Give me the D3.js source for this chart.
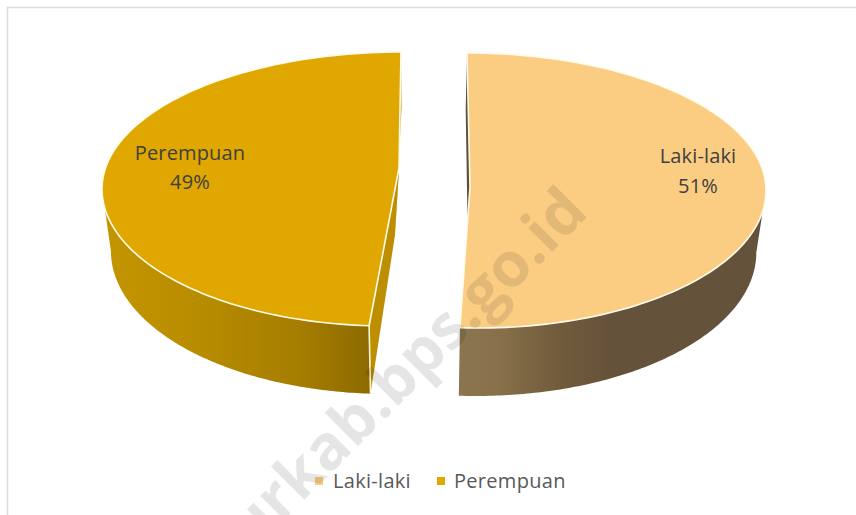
<!DOCTYPE html>
<html>
<head>
<meta charset="utf-8">
<script src="https://cdn.jsdelivr.net/npm/d3@7"></script>
<style>
  html, body { margin: 0; padding: 0; background: #fff; }
  svg { display: block; }
  text { font-family: "Open Sans", sans-serif; }
</style>
</head>
<body>
<script>
// data
const categories = ["Laki-laki", "Perempuan"];
const values = [51, 49];

const w = 856;
const h = 515;

// colours
const topColors = ["#fbcd83", "#dfa700"];
const cutColors = ["#5f4f38", "#bd8f00"];
const gradStops = [
  [[460, "#8b7550"], [500, "#877049"], [560, "#705b3c"], [610, "#65523a"], [766, "#65523a"]],
  [[103, "#c49500"], [200, "#b88c00"], [300, "#a57d00"], [372, "#8c6a00"]]
];

// the two slices are pulled apart and drawn with some perspective, so the
// back half and front half of each rim get their own centre and radius
const geo = [
  { back: [467, 299], front: [478, 288], cy: 190.5, ry: 137.5, apex: [470, 187], apexDrop: [468, 250] },
  { back: [401, 299], front: [387, 285], cy: 189, ry: 137, apex: [399, 168], apexDrop: [395, 235] }
];
const vx = 420;
const depthScale = 0.972;

function rimPoint(i, a, drop) {
  const g = geo[i];
  const c = Math.cos(a);
  const part = c >= 0 ? g.back : g.front;
  const x = part[0] + part[1] * Math.sin(a);
  const y = g.cy - g.ry * c;
  if (!drop) return [x, y];
  return [vx + (x - vx) * depthScale, y + 62 - 6 * c];
}

const svg = d3.select("body").append("svg").attr("width", w).attr("height", h);

// frame of the original picture, top and left only
svg.append("path")
   .attr("d", "M856,7.5H7.5V515")
   .attr("fill", "none")
   .attr("stroke", "#dcdcdc")
   .attr("stroke-width", 1.6);

const defs = svg.append("defs");
gradStops.forEach(function(stops, i) {
  const grad = defs.append("linearGradient")
     .attr("id", "wall" + i)
     .attr("gradientUnits", "userSpaceOnUse")
     .attr("x1", stops[0][0]).attr("y1", 0)
     .attr("x2", stops[stops.length - 1][0]).attr("y2", 0);
  stops.forEach(function(s) {
    grad.append("stop")
        .attr("offset", (s[0] - stops[0][0]) / (stops[stops.length - 1][0] - stops[0][0]))
        .attr("stop-color", s[1]);
  });
});

const slices = d3.pie().sort(null)(values);
const line = d3.line();

function arcPoints(i, a0, a1, drop) {
  const n = 120;
  return d3.range(n + 1).map(function(k) {
    return rimPoint(i, a0 + (a1 - a0) * k / n, drop);
  });
}

// outer walls first
slices.forEach(function(d, i) {
  // only the part of the rim that faces the viewer
  const from = i === 0 ? Math.PI / 2 : d.startAngle;
  const to = i === 0 ? d.endAngle : Math.PI * 1.5;
  const pts = arcPoints(i, from, to, false).concat(arcPoints(i, from, to, true).reverse());
  svg.append("path")
     .attr("d", line(pts) + "Z")
     .attr("fill", "url(#wall" + i + ")");
});

// cut faces, they show as thin strips next to the gap
slices.forEach(function(d, i) {
  const g = geo[i];
  const backA = i === 0 ? d.startAngle : d.endAngle;
  const backFace = [rimPoint(i, backA, false), rimPoint(i, backA, true), g.apexDrop, g.apex];
  svg.append("path")
     .attr("d", line(backFace) + "Z")
     .attr("fill", cutColors[i]);
  if (i === 1) {
    const frontFace = [g.apex, rimPoint(i, d.startAngle, false), rimPoint(i, d.startAngle, true), g.apexDrop];
    svg.append("path")
       .attr("d", line(frontFace) + "Z")
       .attr("fill", cutColors[i]);
  }
});

// edge of the left wall
const edge = [rimPoint(1, slices[1].startAngle, false), rimPoint(1, slices[1].startAngle, true)];
svg.append("path")
   .attr("d", line(edge))
   .attr("stroke", "#fff6d8")
   .attr("stroke-width", 1.6);

// top faces
slices.forEach(function(d, i) {
  const pts = [geo[i].apex].concat(arcPoints(i, d.startAngle, d.endAngle, false));
  svg.append("path")
     .attr("d", line(pts) + "Z")
     .attr("fill", topColors[i])
     .attr("stroke", "#fffbea")
     .attr("stroke-width", 1.6)
     .attr("stroke-linejoin", "round");
});

// data labels
const labelPos = [[698, 163, 193], [190, 160, 189]];
categories.forEach(function(c, i) {
  const t = svg.append("text")
     .attr("text-anchor", "middle")
     .attr("font-size", 20)
     .attr("letter-spacing", 0.15)
     .attr("fill", "#404040");
  t.append("tspan").attr("x", labelPos[i][0]).attr("y", labelPos[i][1]).text(c);
  t.append("tspan").attr("x", labelPos[i][0]).attr("y", labelPos[i][2]).text(values[i] + "%");
});

// legend
const legendX = [315, 437];
const legendGap = [18, 17];
categories.forEach(function(c, i) {
  svg.append("rect")
     .attr("x", legendX[i]).attr("y", 477)
     .attr("width", 8).attr("height", 8)
     .attr("fill", topColors[i]);
  svg.append("text")
     .attr("x", legendX[i] + legendGap[i]).attr("y", 488)
     .attr("font-size", 20)
     .attr("letter-spacing", 0.3)
     .attr("fill", "#595959")
     .text(c);
});

// watermark across the picture
svg.append("text")
   .attr("transform", "translate(590,214) rotate(-45)")
   .attr("text-anchor", "end")
   .attr("font-size", 62)
   .attr("font-weight", 700)
   .attr("fill", "#000")
   .attr("fill-opacity", 0.1)
   .text("urkab.bps.go.id");
</script>
</body>
</html>
